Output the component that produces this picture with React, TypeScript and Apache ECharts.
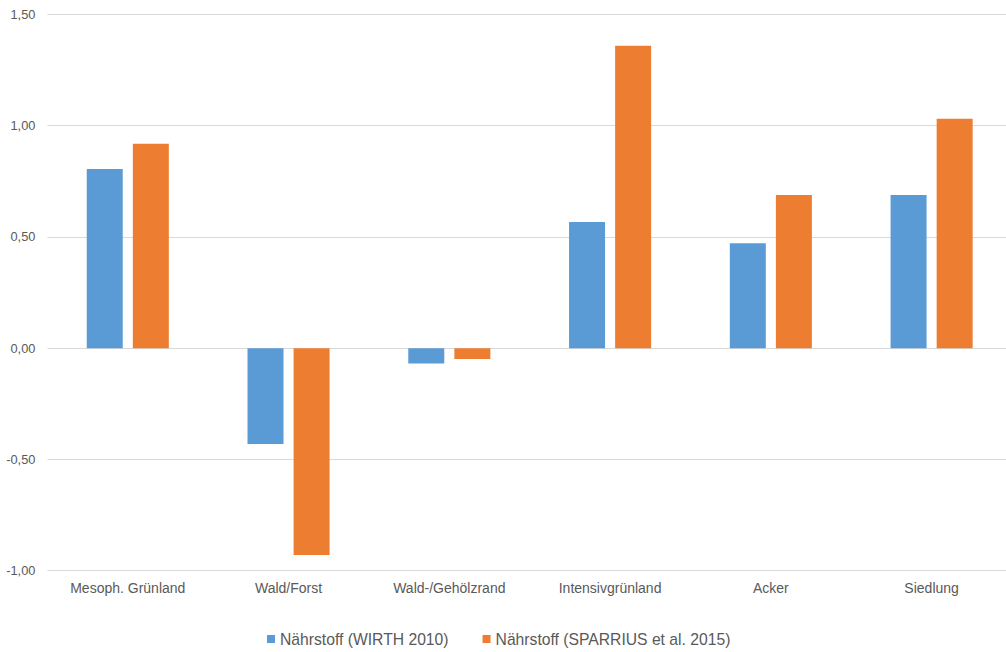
import React, { useEffect, useRef } from "react";
import * as echarts from "echarts";

const categories = [
  "Mesoph. Grünland",
  "Wald/Forst",
  "Wald-/Gehölzrand",
  "Intensivgrünland",
  "Acker",
  "Siedlung",
];
const wirth2010 = [0.805, -0.43, -0.069, 0.567, 0.472, 0.689];
const sparrius2015 = [0.919, -0.929, -0.049, 1.359, 0.689, 1.031];
const seriesNames = ["Nährstoff (WIRTH 2010)", "Nährstoff (SPARRIUS et al. 2015)"];

const FONT = "'Liberation Sans', Arial, sans-serif";
const TEXT = "#595959";

export default function App() {
  const ref = useRef<HTMLDivElement>(null);

  useEffect(() => {
    if (!ref.current) return;
    const chart = echarts.init(ref.current, undefined, { renderer: "svg" });
    chart.setOption({
      animation: false,
      backgroundColor: "#ffffff",
      grid: { left: 47.4, right: 0, top: 14.5, bottom: 81.3, containLabel: false },
      legend: {
        data: seriesNames,
        left: 262,
        top: 626,
        icon: "rect",
        itemWidth: 8,
        itemHeight: 8,
        itemGap: 34,
        textStyle: { fontSize: 15.7, color: TEXT, fontFamily: FONT },
      },
      xAxis: {
        type: "category",
        data: categories,
        axisLine: { show: false, onZero: false },
        axisTick: { show: false },
        axisLabel: { color: TEXT, fontSize: 14, fontFamily: FONT, margin: 10, interval: 0 },
      },
      yAxis: {
        type: "value",
        min: -1,
        max: 1.5,
        interval: 0.5,
        axisLine: { show: false },
        axisTick: { show: false },
        splitLine: { lineStyle: { color: "#d9d9d9", width: 1 } },
        axisLabel: {
          color: TEXT,
          fontSize: 12.8,
          fontFamily: FONT,
          margin: 12,
          formatter: (v: number) => v.toFixed(2).replace(".", ","),
        },
      },
      series: [
        {
          name: seriesNames[0],
          type: "bar",
          data: wirth2010,
          barWidth: 36,
          barGap: "28%",
          itemStyle: { color: "#5b9bd5" },
        },
        {
          name: seriesNames[1],
          type: "bar",
          data: sparrius2015,
          barWidth: 36,
          barGap: "28%",
          itemStyle: { color: "#ed7d31" },
        },
      ],
    });
    return () => chart.dispose();
  }, []);

  return (
    <div
      ref={ref}
      style={{ position: "fixed", left: 0, top: 0, width: 1012, height: 652, overflow: "hidden" }}
    />
  );
}
